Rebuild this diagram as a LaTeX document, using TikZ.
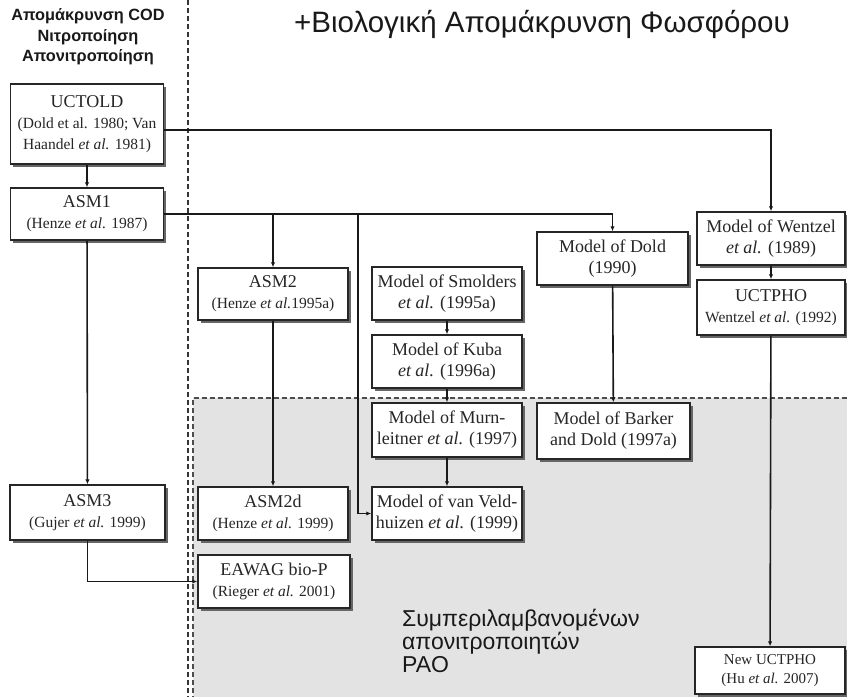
\documentclass[tikz,border=0pt]{standalone}
\usepackage{fontspec}
\setmainfont{Liberation Serif}
\newfontfamily\grk{Liberation Sans}
\usetikzlibrary{shadows,arrows.meta}

% font sizes for the model boxes (the line spacing comes from the node font)
\newcommand\mhead{\fontsize{18}{21}\selectfont}
\newcommand\msub{\fontsize{15.5}{21}\selectfont}

\begin{document}
\begin{tikzpicture}[x=1pt,y=-1pt,
  model/.style={draw=black!85, line width=1.5pt, fill=white, align=center,
    inner sep=1pt, text=black!85, minimum width=151pt, minimum height=53pt,
    font=\mhead,
    drop shadow={shadow xshift=2.5pt, shadow yshift=-2.5pt, fill=black!60, opacity=1}},
  link/.style={line width=1.6pt, draw=black!90, -{Latex[length=5pt,width=4.5pt]}},
  plain/.style={line width=1.6pt, draw=black!90},
  label/.style={inner sep=0pt, text=black!90},
]
\useasboundingbox (0,0) rectangle (847,697);
\fill[white] (0,0) rectangle (847,697);

% shaded zone of the denitrifying-PAO models
\fill[black!11] (193,398) rectangle (847,697);
\draw[black!70, line width=1.3pt, dash pattern=on 5pt off 3pt] (847,398) -- (193,398) -- (193,697);

% separator between the two families of models
\draw[black!80, line width=2.3pt, dash pattern=on 5pt off 3pt] (188,0) -- (188,697);

% headings
\node[label, align=center, font=\grk\bfseries\fontsize{16.3}{20.5}\selectfont] (hleft) at (88,37)
  {Απομάκρυνση COD\\Νιτροποίηση\\Απονιτροποίηση};
\node[label, font=\grk\fontsize{29.5}{32}\selectfont] (htop) at (542,24)
  {+Βιολογική Απομάκρυνση Φωσφόρου};
\node[label, align=left, anchor=west, font=\grk\fontsize{23}{23}\selectfont] (hpao) at (402,641)
  {Συμπεριλαμβανομένων\\απονιτροποιητών\\PAO};

% models
\node[model, minimum width=153pt, minimum height=80pt] (uctold) at (87,124)
  {UCTOLD\\\msub (Dold et al. 1980; Van\\\msub Haandel \textit{et al.} 1981)};
\node[model, minimum width=153pt, minimum height=52pt] (asm1) at (87,214)
  {ASM1\\\msub (Henze \textit{et al.} 1987)};
\node[model, minimum width=150pt, minimum height=52pt] (asm2) at (273,294)
  {ASM2\\\msub (Henze \textit{et al.}1995a)};
\node[model, minimum width=150pt] (smolders) at (447,293.5)
  {Model of Smolders\\\textit{et al.} (1995a)};
\node[model, minimum width=150pt] (kuba) at (447,361.5)
  {Model of Kuba\\\textit{et al.} (1996a)};
\node[model, minimum width=150pt, minimum height=54pt] (murn) at (447,430)
  {Model of Murn-\\leitner \textit{et al.} (1997)};
\node[model, minimum width=150pt] (veld) at (447,513.5)
  {Model of van Veld-\\huizen \textit{et al.} (1999)};
\node[model] (dold) at (612.5,258.5)
  {Model of Dold\\(1990)};
\node[model, minimum width=148pt] (wentzel) at (771,238.5)
  {Model of Wentzel\\\textit{et al.} (1989)};
\node[model, minimum width=148pt, minimum height=55pt] (uctpho) at (771,307.5)
  {UCTPHO\\\msub Wentzel \textit{et al.} (1992)};
\node[model, minimum width=153pt, minimum height=56pt] (barker) at (613.5,431)
  {Model of Barker\\and Dold (1997a)};
\node[model, minimum width=155pt, minimum height=55pt] (asm3) at (87.5,512.5)
  {ASM3\\\msub (Gujer \textit{et al.} 1999)};
\node[model, minimum width=150pt] (asm2d) at (273,513.5)
  {ASM2d\\\msub (Henze \textit{et al.} 1999)};
\node[model, minimum width=152pt] (eawag) at (274,581.5)
  {EAWAG bio-P\\\msub (Rieger \textit{et al.} 2001)};
\node[model, minimum width=150pt, minimum height=47pt,
  font=\fontsize{15}{19}\selectfont] (newuct) at (770,670.5)
  {New UCTPHO\\(Hu \textit{et al.} 2007)};

% junction points of the connectors
\coordinate (jtop) at (771,130);
\coordinate (jasm2) at (273,214);
\coordinate (jveld) at (358,214);
\coordinate (jveldlow) at (358,513.5);
\coordinate (jasm3) at (87.5,581.5);

% connectors
\draw[link] (uctold) -- (asm1);
\draw[link] (uctold.east |- jtop) -| (wentzel.north);
\draw[link] (asm1.east) -| (dold.north);
\draw[link] (jasm2) -- (asm2.north);
\draw[plain] (jveld) -- (jveldlow);
\draw[link] (jveldlow) -- (veld.west);
\draw[link] (asm1) -- (asm3);
\draw[plain] (asm3.south) -- (jasm3);
\draw[link] (jasm3) -- (eawag.west);
\draw[link] (asm2) -- (asm2d);
\draw[link] (smolders) -- (kuba);
\draw[link] (kuba) -- (murn);
\draw[link] (murn) -- (veld);
\draw[link] (dold) -- (barker);
\draw[link] (wentzel) -- (uctpho);
\draw[link] (uctpho) -- (newuct);
\end{tikzpicture}
\end{document}
